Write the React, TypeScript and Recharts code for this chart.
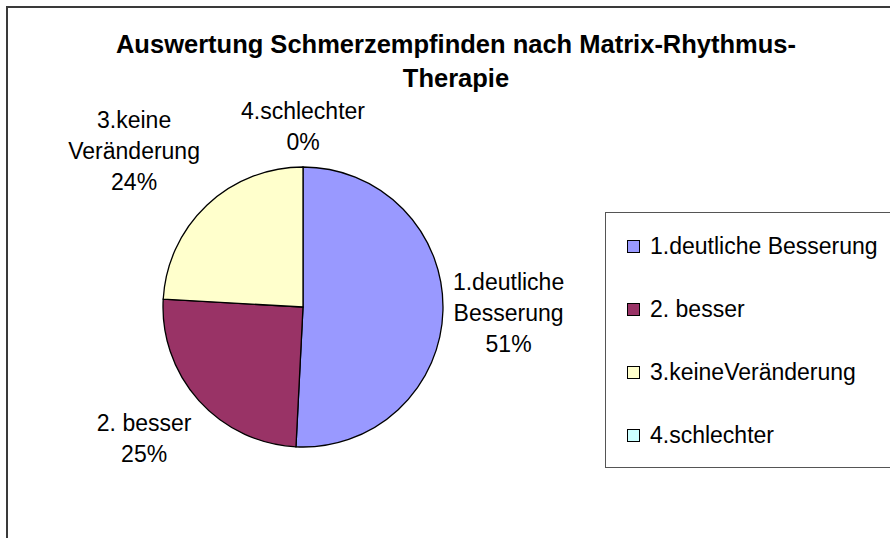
import React from 'react'
import { PieChart, Pie, Cell } from 'recharts'

const categories = ['1.deutliche Besserung', '2. besser', '3.keineVeränderung', '4.schlechter']
const sliceLabels = [['1.deutliche', 'Besserung'], ['2. besser'], ['3.keine', 'Veränderung'], ['4.schlechter']]
const values = [50.8, 25.1, 24.1, 0]
const sliceColors = ['#9999FF', '#993366', '#FFFFCC', '#CCFFFF']
const titleLines = ['Auswertung Schmerzempfinden nach Matrix-Rhythmus-', 'Therapie']

const FONT = '"Liberation Sans", Arial, sans-serif'
const LABEL_SIZE = 23
const LINE_H = 31
const RAD = Math.PI / 180

const data = categories.map((name, i) => ({ name, value: values[i] }))

let ctx: CanvasRenderingContext2D | null = null
const measure = (s: string) => {
  if (!ctx) ctx = document.createElement('canvas').getContext('2d')
  if (!ctx) return s.length * LABEL_SIZE * 0.5
  ctx.font = `${LABEL_SIZE}px ${FONT}`
  return ctx.measureText(s).width
}

const clamp1 = (v: number) => Math.max(-1, Math.min(1, v))

// outside label, box pushed away from the pie along the slice's mid angle
const renderLabel = (props: any) => {
  const { cx, cy, midAngle, outerRadius, percent, index } = props
  const lines = [...sliceLabels[index], `${Math.round(percent * 100)}%`]
  const w = Math.max(...lines.map(measure))
  const h = lines.length * LINE_H
  const cos = Math.cos(-midAngle * RAD)
  const sin = Math.sin(-midAngle * RAD)
  const r = outerRadius + 10
  const bx = cx + r * cos + clamp1(cos * 2) * w / 2
  const by = cy + r * sin + clamp1(sin * 2) * h / 2
  const top = by - h / 2
  return (
    <text key={`lbl-${index}`} fontFamily={FONT} fontSize={LABEL_SIZE} fill="#000" textAnchor="middle">
      {lines.map((ln, i) => (
        <tspan key={i} x={bx} y={top + (i + 0.5) * LINE_H + 8}>{ln}</tspan>
      ))}
    </text>
  )
}

export default function App() {
  return (
    <div style={{ position: 'absolute', left: 0, top: 0, width: 890, height: 538, overflow: 'hidden', background: '#fff' }}>
      {/* chart frame, runs off the right and bottom edges */}
      <div style={{ position: 'absolute', left: 6, top: 6, width: 1000, height: 1000, border: '2px solid #3a3a3a' }} />

      <svg width={890} height={120} style={{ position: 'absolute', left: 0, top: 0 }}>
        {titleLines.map((t, i) => (
          <text key={i} x={456} y={53 + i * 34} textAnchor="middle" fontFamily={FONT} fontWeight="bold" fontSize={25.5} fill="#000">
            {t}
          </text>
        ))}
      </svg>

      <div style={{ position: 'absolute', left: 0, top: 0 }}>
        <PieChart width={890} height={538} margin={{ top: 0, right: 0, bottom: 0, left: 0 }}>
          <Pie
            data={data}
            dataKey="value"
            nameKey="name"
            cx={303}
            cy={307}
            outerRadius={140}
            startAngle={90}
            endAngle={-270}
            stroke="#000"
            strokeWidth={1.3}
            label={renderLabel}
            labelLine={false}
            isAnimationActive={false}
          >
            {data.map((d, i) => (
              <Cell key={d.name} fill={sliceColors[i]} />
            ))}
          </Pie>
        </PieChart>
      </div>

      {/* legend box */}
      <div style={{ position: 'absolute', left: 605, top: 212, width: 400, height: 254, border: '1px solid #555', background: '#fff' }}>
        {categories.map((c, i) => (
          <div key={c} style={{ position: 'absolute', left: 21, top: 20 + i * 63, height: 26, display: 'flex', alignItems: 'center', whiteSpace: 'nowrap' }}>
            <span style={{ display: 'inline-block', width: 11, height: 11, background: sliceColors[i], border: '1px solid #000', marginRight: 10 }} />
            <span style={{ fontFamily: FONT, fontSize: LABEL_SIZE, color: '#000', lineHeight: '26px' }}>{c}</span>
          </div>
        ))}
      </div>
    </div>
  )
}
